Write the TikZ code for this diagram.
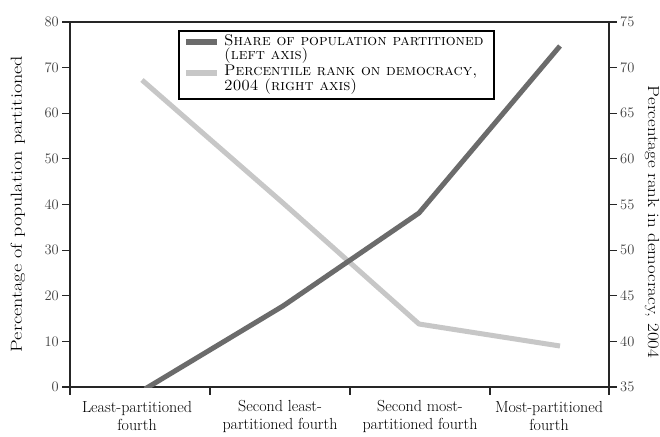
\documentclass[tikz,border=0pt]{standalone}
\begin{document}
\begin{tikzpicture}[x=1pt,y=-1pt,
  axisline/.style={line width=1.4pt,black!85},
  tickline/.style={line width=1.2pt,black!85},
  darkseries/.style={line width=5pt,color=black!58,line join=round},
  lightseries/.style={line width=5pt,color=black!22,line join=round},
  ticklab/.style={font=\fontsize{14.5}{16}\selectfont,text=black!75,inner sep=1pt},
  catlab/.style={font=\fontsize{16}{18}\selectfont,align=center,inner sep=0pt},
  axtitle/.style={font=\fontsize{16}{18}\selectfont,inner sep=0pt},
  legtext/.style={font=\fontsize{15.5}{16}\selectfont,anchor=west,inner sep=0pt}
]
\useasboundingbox (0,0) rectangle (660,436);
\fill[white] (0,0) rectangle (660,436);
% axes frame
\coordinate (tl) at (70,22);
\coordinate (tr) at (609,22);
\coordinate (bl) at (70,387);
\coordinate (br) at (609,387);
\draw[axisline] (tl) -- (tr);
\draw[axisline] (70,22) -- (70,395);
\draw[axisline] (609,22) -- (609,395);
\draw[axisline] (bl) -- (br);
% left ticks
\foreach \v in {0,10,...,80}{
  \draw[tickline] (62,{387-\v*4.5625}) -- (70,{387-\v*4.5625});
  \node[ticklab,anchor=east] at (60,{387-\v*4.5625}) {\v};
}
% right ticks
\foreach \v in {35,40,...,75}{
  \draw[tickline] (609,{387-(\v-35)*9.125}) -- (617,{387-(\v-35)*9.125});
  \node[ticklab,anchor=west] at (619,{387-(\v-35)*9.125}) {\v};
}
% bottom ticks
\foreach \x in {210,350,490}{
  \draw[tickline] (\x,387) -- (\x,395);
}
% category labels
\node[catlab] (c1) at (137,416) {Least-partitioned\\fourth};
\node[catlab] (c2) at (280,416) {Second least-\\partitioned fourth};
\node[catlab] (c3) at (420,416) {Second most-\\partitioned fourth};
\node[catlab] (c4) at (549,416) {Most-partitioned\\fourth};
% axis titles
\node[axtitle,rotate=90] (lt) at (18,204) {\scalebox{1.26}[1]{Percentage of population partitioned}};
\node[axtitle,rotate=-90] (rt) at (652,222) {\scalebox{1.18}[1]{Percentage rank in democracy, 2004}};
% series points
\coordinate (d1) at (145,389);
\coordinate (d2) at (283,306);
\coordinate (d3) at (419,213);
\coordinate (d4) at (560,46);
\coordinate (l1) at (142,80);
\coordinate (l2) at (283,203);
\coordinate (l3) at (419,324);
\coordinate (l4) at (560,346);
\begin{scope}
\clip (70,22) rectangle (609,387);
\draw[lightseries] (l1) -- (l2) -- (l3) -- (l4);
\draw[darkseries] (d1) -- (d2) -- (d3) -- (d4);
\end{scope}
% legend
\draw[line width=1.4pt,fill=white] (179,31) rectangle (494,99);
\coordinate (ld1) at (186,42);
\coordinate (ld2) at (217,42);
\coordinate (ll1) at (186,73);
\coordinate (ll2) at (217,73);
\draw[darkseries,line width=6pt] (ld1) -- (ld2);
\draw[lightseries,line width=6pt] (ll1) -- (ll2);
\node[legtext] (t1) at (224,40) {\textsc{Share of population partitioned}};
\node[legtext] (t2) at (224,56) {\textsc{(left axis)}};
\node[legtext] (t3) at (224,72) {\textsc{Percentile rank on democracy,}};
\node[legtext] (t4) at (224,87) {\textsc{2004 (right axis)}};
\end{tikzpicture}
\end{document}
